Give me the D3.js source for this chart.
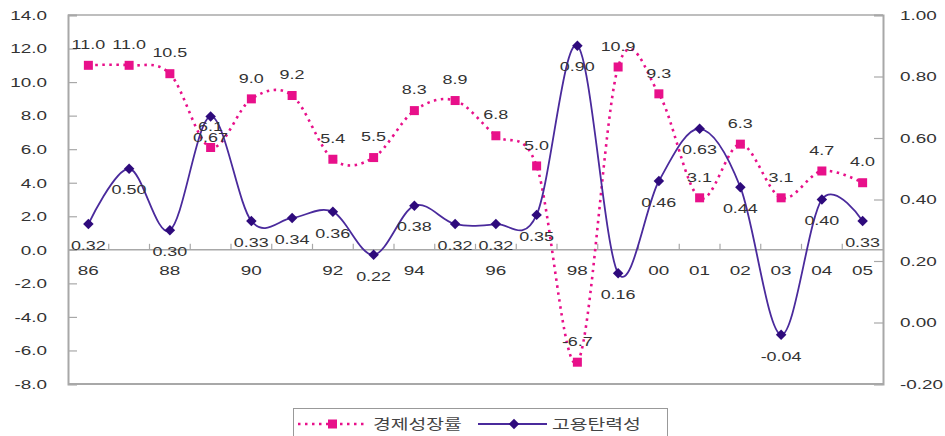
<!DOCTYPE html>
<html>
<head>
<meta charset="utf-8">
<script src="https://cdn.jsdelivr.net/npm/d3@7/dist/d3.min.js"></script>
<style>
  html, body { margin: 0; padding: 0; background: #fff; }
  svg { display: block; font-family: "Liberation Sans", Arial, sans-serif; }
  text { transform-box: fill-box; }
</style>
</head>
<body>
<svg id="chart" width="945" height="436"></svg>
<script>
// Years (category axis) and the tick labels shown under them
const years = ["1986","1987","1988","1989","1990","1991","1992","1993","1994","1995",
               "1996","1997","1998","1999","2000","2001","2002","2003","2004","2005"];
const yearLabels = ["86","","88","","90","","92","","94","","96","","98","","00","01","02","03","04","05"];

// Economic growth rate (%), left axis
const growthRate = [11.0, 11.0, 10.5, 6.1, 9.0, 9.2, 5.4, 5.5, 8.3, 8.9,
                    6.8, 5.0, -6.7, 10.9, 9.3, 3.1, 6.3, 3.1, 4.7, 4.0];
// Employment elasticity, right axis
const elasticity = [0.32, 0.50, 0.30, 0.67, 0.33, 0.34, 0.36, 0.22, 0.38, 0.32,
                    0.32, 0.35, 0.90, 0.16, 0.46, 0.63, 0.44, -0.04, 0.40, 0.33];

const leftTicks = [-8, -6, -4, -2, 0, 2, 4, 6, 8, 10, 12, 14];
const rightTicks = [-0.2, 0, 0.2, 0.4, 0.6, 0.8, 1.0];

const seriesNames = ["경제성장률", "고용탄력성"];

const pink = "#e8108a";
const purple = "#4a2a9c";
const purpleDark = "#2e0a7c";
const axisGray = "#a8a8a8";
const textColor = "#333";

// Text in this chart is set in a horizontally widened face
function widen(sel, origin, k) {
  sel.style("transform-origin", origin).style("transform", `scaleX(${k})`);
}

const svg = d3.select("#chart");
const plot = { left: 68, right: 883, top: 15, bottom: 384 };

const x = d3.scaleBand().domain(years).range([plot.left, plot.right]).padding(0);
const cx = d => x(d) + x.bandwidth() / 2;
const yL = d3.scaleLinear().domain([-8, 14]).range([plot.bottom, plot.top]);
const yR = d3.scaleLinear().domain([-0.2, 1.0]).range([plot.bottom, plot.top]);

// Top and bottom frame lines
svg.append("line")
  .attr("x1", plot.left).attr("x2", plot.right)
  .attr("y1", plot.top).attr("y2", plot.top)
  .attr("stroke", axisGray).attr("stroke-width", 1.5);
svg.append("line")
  .attr("x1", plot.left).attr("x2", plot.right)
  .attr("y1", plot.bottom).attr("y2", plot.bottom)
  .attr("stroke", axisGray).attr("stroke-width", 2);

// Left axis
const gL = svg.append("g").attr("transform", `translate(${plot.left},0)`)
  .call(d3.axisLeft(yL).tickValues(leftTicks).tickSize(-9).tickPadding(21)
        .tickFormat(d => d.toFixed(1)));
// Right axis
const gR = svg.append("g").attr("transform", `translate(${plot.right},0)`)
  .call(d3.axisRight(yR).tickValues(rightTicks).tickSize(-9).tickPadding(17)
        .tickFormat(d => d.toFixed(2)));

[gL, gR].forEach(g => {
  g.select(".domain").attr("stroke", axisGray).attr("stroke-width", 2);
  g.selectAll(".tick line").attr("stroke", axisGray).attr("stroke-width", 1.2);
  g.selectAll(".tick text").attr("fill", textColor).attr("font-size", 13.5);
});
widen(gL.selectAll(".tick text"), "right center", 1.4);
widen(gR.selectAll(".tick text"), "left center", 1.4);

// Category axis drawn through zero of the left scale
const y0 = yL(0);
const gX = svg.append("g").attr("transform", `translate(0,${y0})`)
  .call(d3.axisBottom(x).tickSize(0).tickPadding(16)
        .tickFormat((d, i) => yearLabels[i]));
gX.select(".domain").remove();
gX.selectAll(".tick text").attr("fill", textColor).attr("font-size", 13.5);
widen(gX.selectAll(".tick text"), "center", 1.4);
svg.append("line")
  .attr("x1", plot.left).attr("x2", plot.right)
  .attr("y1", y0).attr("y2", y0)
  .attr("stroke", axisGray).attr("stroke-width", 1.5);
svg.append("g").selectAll("line")
  .data(years.slice(1))
  .join("line")
  .attr("x1", d => x(d)).attr("x2", d => x(d))
  .attr("y1", y0).attr("y2", y0 - 6)
  .attr("stroke", axisGray).attr("stroke-width", 1.2);

const smooth = d3.curveCardinal.tension(0);

// Growth rate: dotted smoothed line with square markers
const lineG = d3.line().x((d, i) => cx(years[i])).y(d => yL(d)).curve(smooth);
svg.append("path")
  .attr("d", lineG(growthRate))
  .attr("fill", "none").attr("stroke", pink).attr("stroke-width", 2.6)
  .attr("stroke-dasharray", "2.5,4.5");

// Elasticity: solid smoothed line with diamond markers
const lineE = d3.line().x((d, i) => cx(years[i])).y(d => yR(d)).curve(smooth);
svg.append("path")
  .attr("d", lineE(elasticity))
  .attr("fill", "none").attr("stroke", purple).attr("stroke-width", 1.8);

svg.append("g").selectAll("rect")
  .data(growthRate)
  .join("rect")
  .attr("x", (d, i) => cx(years[i]) - 4.5)
  .attr("y", d => yL(d) - 4.5)
  .attr("width", 9).attr("height", 9)
  .attr("fill", pink);

const diamond = d3.symbol().type(d3.symbolDiamond2).size(70);
svg.append("g").selectAll("path")
  .data(elasticity)
  .join("path")
  .attr("transform", (d, i) => `translate(${cx(years[i])},${yR(d)})`)
  .attr("d", diamond)
  .attr("fill", purpleDark);

// Value labels: growth above its marker, elasticity below its marker
const gLabels = svg.append("g").selectAll("text")
  .data(growthRate)
  .join("text")
  .attr("x", (d, i) => cx(years[i]))
  .attr("y", d => yL(d) - 21)
  .attr("dy", "0.35em")
  .attr("text-anchor", "middle")
  .attr("font-size", 13.5).attr("fill", textColor)
  .text(d => d.toFixed(1));
widen(gLabels, "center", 1.33);

const eLabels = svg.append("g").selectAll("text")
  .data(elasticity)
  .join("text")
  .attr("x", (d, i) => cx(years[i]))
  .attr("y", d => yR(d) + 21)
  .attr("dy", "0.35em")
  .attr("text-anchor", "middle")
  .attr("font-size", 13.5).attr("fill", textColor)
  .text(d => d.toFixed(2));
widen(eLabels, "center", 1.33);

// Legend
const lg = svg.append("g");
lg.append("rect")
  .attr("x", 293.5).attr("y", 408.5).attr("width", 374).attr("height", 40)
  .attr("fill", "#fff").attr("stroke", "#999").attr("stroke-width", 1);
const ly = 424;
lg.append("line").attr("x1", 298).attr("x2", 366).attr("y1", ly).attr("y2", ly)
  .attr("stroke", pink).attr("stroke-width", 2.6).attr("stroke-dasharray", "2.5,4.5");
lg.append("rect").attr("x", 328).attr("y", ly - 4.5).attr("width", 9).attr("height", 9)
  .attr("fill", pink);
const t1 = lg.append("text").attr("x", 373).attr("y", ly).attr("dy", "0.35em")
  .attr("font-family", "'Noto Sans CJK KR', sans-serif")
  .attr("font-size", 14).attr("fill", "#444").text(seriesNames[0]);
widen(t1, "left center", 1.38);
lg.append("line").attr("x1", 478).attr("x2", 547).attr("y1", ly).attr("y2", ly)
  .attr("stroke", purple).attr("stroke-width", 1.8);
lg.append("path").attr("transform", `translate(514,${ly})`).attr("d", diamond)
  .attr("fill", purpleDark);
const t2 = lg.append("text").attr("x", 552).attr("y", ly).attr("dy", "0.35em")
  .attr("font-family", "'Noto Sans CJK KR', sans-serif")
  .attr("font-size", 14).attr("fill", "#444").text(seriesNames[1]);
widen(t2, "left center", 1.38);
</script>
</body>
</html>
